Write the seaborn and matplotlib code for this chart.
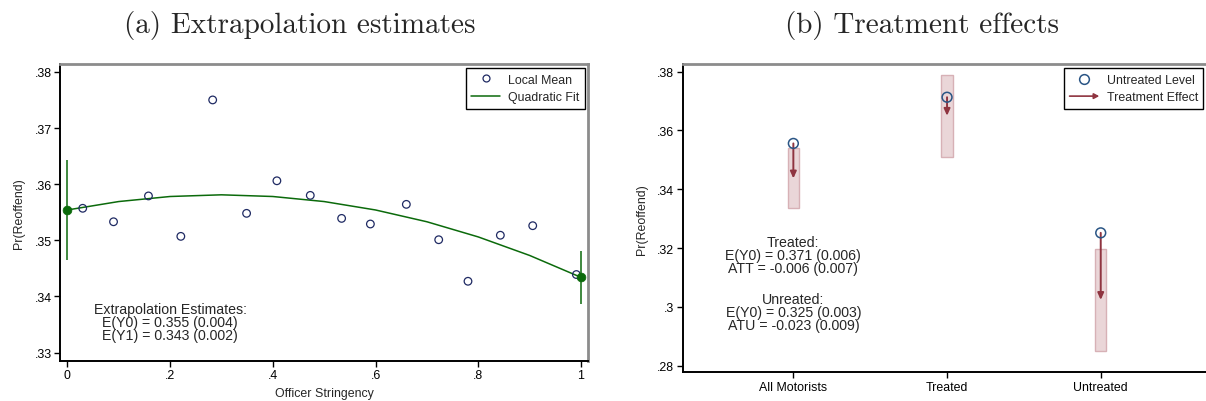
import numpy as np
import pandas as pd
import matplotlib
matplotlib.use("Agg")
import matplotlib.pyplot as plt
import matplotlib.patches as mpatches
from matplotlib.lines import Line2D
from matplotlib.legend_handler import HandlerPatch
import seaborn as sns

sns.set_style("ticks")
plt.rcParams['font.family'] = ['Liberation Sans', 'DejaVu Sans']
fs = 8.9      # ticks, axis labels, legends
fs_txt = 10.2  # annotation blocks

# ---- panel (a) data: local means of reoffending by officer stringency
stringency = [0.030, 0.090, 0.158, 0.221, 0.283, 0.349, 0.408, 0.473,
              0.534, 0.590, 0.660, 0.723, 0.780, 0.843, 0.906, 0.991]
local_mean = [0.3557, 0.3533, 0.3579, 0.3507, 0.3750, 0.3548, 0.3606, 0.3580,
              0.3539, 0.3529, 0.3564, 0.3501, 0.3427, 0.3509, 0.3526, 0.3439]
# quadratic fit
fit_x = [0.0, 0.1, 0.2, 0.3, 0.4, 0.5, 0.6, 0.7, 0.8, 0.9, 1.0]
fit_y = [0.3554, 0.3569, 0.3578, 0.3581, 0.3578, 0.3569, 0.3554, 0.3533,
         0.3506, 0.3473, 0.3434]
# extrapolated end points with 95% CI
end_x = [0.0, 1.0]
end_y = [0.3554, 0.3434]
end_lo = [0.3465, 0.3386]
end_hi = [0.3643, 0.3481]
a_xticks = [0, 0.2, 0.4, 0.6, 0.8, 1.0]
a_xticklabels = ["0", ".2", ".4", ".6", ".8", "1"]
a_yticks = [0.33, 0.34, 0.35, 0.36, 0.37, 0.38]
a_yticklabels = [".33", ".34", ".35", ".36", ".37", ".38"]

# ---- panel (b) data: untreated level and treatment effect
groups = ["All Motorists", "Treated", "Untreated"]
untreated_level = [0.3556, 0.3713, 0.3252]
treated_level = [0.3437, 0.3650, 0.3024]
ci_lo = [0.3335, 0.3509, 0.2851]
ci_hi = [0.3539, 0.3790, 0.3197]
b_yticks = [0.28, 0.30, 0.32, 0.34, 0.36, 0.38]
b_yticklabels = [".28", ".3", ".32", ".34", ".36", ".38"]

green = "#0b6a0b"
navy = "#1f2a63"
blue = "#2a5585"
cranberry = "#8f3440"

W, H = 1206, 402
fig = plt.figure(figsize=(W / 100, H / 100), dpi=100)


def px_axes(l, r, t, b):
    return fig.add_axes([l / W, 1 - b / H, (r - l) / W, (b - t) / H])


def style(ax):
    for s in ["left", "bottom"]:
        ax.spines[s].set_color("black")
        ax.spines[s].set_linewidth(1.4)
    for s in ["top", "right"]:
        ax.spines[s].set_visible(True)
        ax.spines[s].set_color("#8c8c8c")
        ax.spines[s].set_linewidth(2.0)
    ax.tick_params(direction="out", length=4, width=1, labelsize=fs,
                   colors="black", pad=2)


# ================= panel (a)
ax1 = px_axes(60, 588.3, 65, 362)
df_a = pd.DataFrame({"x": stringency, "y": local_mean})
df_fit = pd.DataFrame({"x": fit_x, "y": fit_y})
sns.scatterplot(data=df_a, x="x", y="y", ax=ax1, marker="o", s=30,
                facecolor="none", edgecolor=navy, linewidth=0.9, zorder=3)
sns.lineplot(data=df_fit, x="x", y="y", ax=ax1, color=green, linewidth=1.1,
             zorder=2)
ax1.vlines(end_x, end_lo, end_hi, color=green, linewidth=1.1, zorder=4)
sns.scatterplot(x=end_x, y=end_y, ax=ax1, color=green, s=40,
                edgecolor=green, zorder=5)
ax1.set_xlim(-0.0142, 1.0142)
ax1.set_ylim(0.3285, 0.3814)
ax1.set_xticks(a_xticks)
ax1.set_xticklabels(a_xticklabels)
ax1.set_yticks(a_yticks)
ax1.set_yticklabels(a_yticklabels)
ax1.set_xlabel("Officer Stringency", fontsize=fs, labelpad=4)
ax1.set_ylabel("Pr(Reoffend)", fontsize=fs, labelpad=7)
style(ax1)
ax1.text(0.2, 0.3355, "Extrapolation Estimates:\nE(Y0) = 0.355 (0.004)\nE(Y1) = 0.343 (0.002)",
         ha="center", va="center", fontsize=fs_txt, linespacing=0.92)
h1 = [Line2D([], [], marker="o", ls="none", markerfacecolor="none",
             markeredgecolor=navy, markersize=5, markeredgewidth=0.9),
      Line2D([], [], color=green, linewidth=1.1)]
leg1 = ax1.legend(h1, ["Local Mean", "Quadratic Fit"], loc="upper right",
                  bbox_to_anchor=(0.993, 0.986), fontsize=fs, frameon=True,
                  fancybox=False, edgecolor="black", framealpha=1,
                  handlelength=2.3, borderpad=0.45, labelspacing=0.45,
                  handletextpad=0.65, borderaxespad=0)
leg1.get_frame().set_linewidth(1.0)


# ================= panel (b)
class ArrowHandler(HandlerPatch):
    def create_artists(self, legend, orig_handle, xdescent, ydescent,
                       width, height, fontsize, trans):
        y = height / 2 - ydescent
        arr = mpatches.FancyArrowPatch((-xdescent, y), (width - xdescent, y),
                                       arrowstyle="-|>,head_length=3,head_width=1.6",
                                       color=cranberry, linewidth=1.2,
                                       shrinkA=0, shrinkB=0)
        arr.set_transform(trans)
        return [arr]


ax2 = px_axes(682.7, 1216, 65, 373.3)
xpos = np.arange(len(groups))
ax2.bar(xpos, np.array(ci_hi) - np.array(ci_lo), bottom=ci_lo, width=0.075,
        color="#ead6d8", edgecolor="#d7b1b6", linewidth=1.0, zorder=1)
for i in range(len(groups)):
    ax2.annotate("", xy=(xpos[i], treated_level[i]),
                 xytext=(xpos[i], untreated_level[i]),
                 arrowprops=dict(arrowstyle="-|>,head_length=0.4,head_width=0.18",
                                 color=cranberry, linewidth=1.4,
                                 shrinkA=0, shrinkB=0), zorder=3)
df_b = pd.DataFrame({"x": xpos, "y": untreated_level})
sns.scatterplot(data=df_b, x="x", y="y", ax=ax2, marker="o", s=50,
                facecolor="none", edgecolor=blue, linewidth=1.1, zorder=4)
ax2.set_xlim(-0.72, 2.75)
ax2.set_ylim(0.2778, 0.3826)
ax2.set_xticks(xpos)
ax2.set_xticklabels(groups)
ax2.set_yticks(b_yticks)
ax2.set_yticklabels(b_yticklabels)
ax2.set_xlabel("")
ax2.set_ylabel("Pr(Reoffend)", fontsize=fs, labelpad=7)
style(ax2)
ax2.text(0, 0.3176, "Treated:\nE(Y0) = 0.371 (0.006)\nATT = -0.006 (0.007)",
         ha="center", va="center", fontsize=fs_txt, linespacing=0.92)
ax2.text(0, 0.2982, "Unreated:\nE(Y0) = 0.325 (0.003)\nATU = -0.023 (0.009)",
         ha="center", va="center", fontsize=fs_txt, linespacing=0.92)
h2 = [Line2D([], [], marker="o", ls="none", markerfacecolor="none",
             markeredgecolor=blue, markersize=7, markeredgewidth=1.1),
      mpatches.FancyArrow(0, 0, 1, 0)]
leg2 = ax2.legend(h2, ["Untreated Level", "Treatment Effect"], loc="upper left",
                  bbox_to_anchor=((1064 - 682.7) / (1216 - 682.7), 0.986),
                  fontsize=fs, frameon=True,
                  fancybox=False, edgecolor="black", framealpha=1,
                  handlelength=2.4, borderpad=0.45, labelspacing=0.45,
                  handletextpad=0.6, borderaxespad=0,
                  handler_map={mpatches.FancyArrow: ArrowHandler()})
leg2.get_frame().set_linewidth(1.0)

# panel titles
fig.text(300 / W, 1 - 25 / H, "(a) Extrapolation estimates", family="cmr10",
         fontsize=21, ha="center", va="center")
fig.text(922 / W, 1 - 25 / H, "(b) Treatment effects", family="cmr10",
         fontsize=21, ha="center", va="center")

fig.savefig("out.png", dpi=100)
